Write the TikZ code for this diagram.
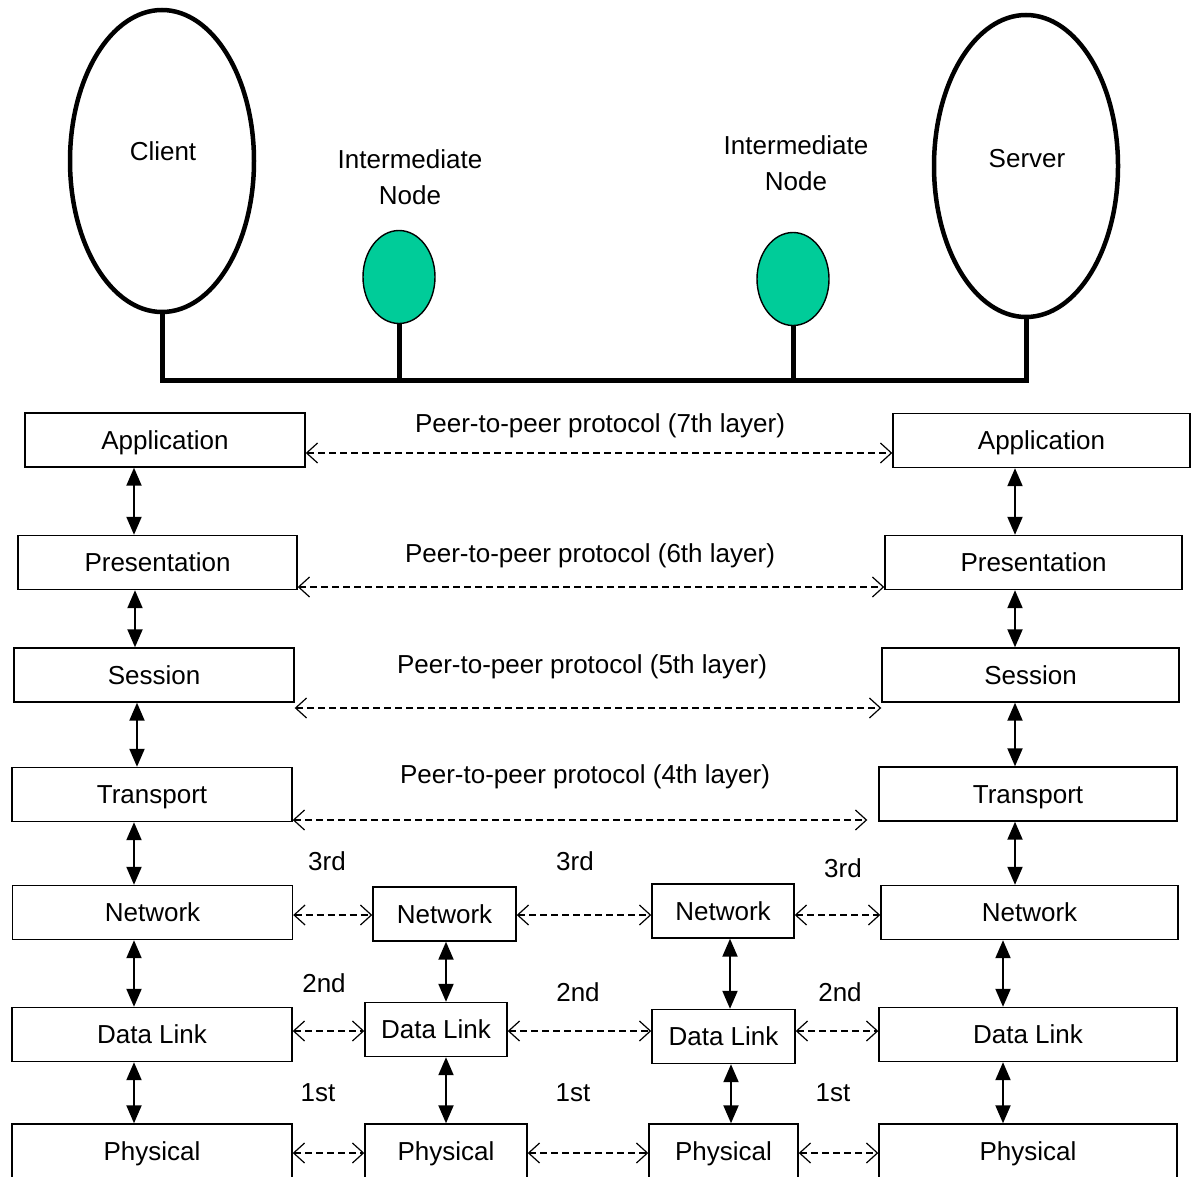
\documentclass[tikz,border=0pt]{standalone}
\usepackage{fontspec}
\setmainfont{Liberation Sans}
\usetikzlibrary{arrows.meta,shapes.geometric}
\definecolor{nodegreen}{RGB}{0,204,153}
\begin{document}
\begin{tikzpicture}[x=1pt,y=-1pt,
  every node/.style={font=\fontsize{26}{36}\selectfont},
  layerbox/.style={draw, line width=1.4pt, minimum height=54pt, inner sep=0pt,
                   text height=19pt, text depth=1pt},
  host/.style={ellipse, draw, line width=4.5pt, inner sep=0pt,
               minimum width=184pt, minimum height=302pt},
  relay/.style={ellipse, draw, fill=nodegreen, line width=1.4pt, inner sep=0pt,
                minimum width=72pt, minimum height=93pt},
  wire/.style={line width=5pt},
  updown/.style={line width=2pt,
                 {Triangle[length=18pt,width=15pt]}-{Triangle[length=18pt,width=15pt]}},
  peer/.style={line width=1.2pt, dash pattern=on 7pt off 4pt,
               {Straight Barb[length=11pt,width=20pt]}-{Straight Barb[length=11pt,width=20pt]}},
]
\useasboundingbox (0,0) rectangle (1196,1177);
\clip (0,0) rectangle (1196,1177);

% hosts and relays on the shared medium
\node[host]  (client) at (162,161) {};
\node[host]  (server) at (1026,166) {};
\node[relay] (relayA) at (399,277) {};
\node[relay] (relayB) at (793,279) {};
\node (clientT) at (163,151) {Client};
\node (serverT) at (1027,159) {Server};
\node[align=center] (relayAT) at (410,177) {Intermediate\\Node};
\node[align=center] (relayBT) at (796,163) {Intermediate\\Node};

\coordinate (busL) at (client.south |- 0,380);
\coordinate (busR) at (server.south |- 0,380);
\draw[wire] (client.south) -- (busL) -- (busR) -- (server.south);
\draw[wire] (relayA.south) -- (relayA.south |- busL);
\draw[wire] (relayB.south) -- (relayB.south |- busL);

% client stack
\node[layerbox, minimum width=280pt] (aL) at (165,440)  {Application};
\node[layerbox, minimum width=279pt] (pL) at (157.5,562.5) {Presentation};
\node[layerbox, minimum width=280pt] (sL) at (154,675)  {Session};
\node[layerbox, minimum width=280pt] (tL) at (152,794.5) {Transport};
\node[layerbox, minimum width=280pt] (nL) at (152.5,912.5)  {Network};
\node[layerbox, minimum width=280pt] (dL) at (152,1034.5) {Data Link};
\node[layerbox, minimum width=280pt] (yL) at (152,1151) {Physical};

% server stack
\node[layerbox, minimum width=297pt] (aR) at (1041.5,440.5) {Application};
\node[layerbox, minimum width=297pt] (pR) at (1033.5,562.5) {Presentation};
\node[layerbox, minimum width=297pt] (sR) at (1030.5,675)  {Session};
\node[layerbox, minimum width=298pt] (tR) at (1028,794)    {Transport};
\node[layerbox, minimum width=297pt] (nR) at (1029.5,912.5) {Network};
\node[layerbox, minimum width=298pt] (dR) at (1028,1034.5) {Data Link};
\node[layerbox, minimum width=298pt] (yR) at (1028,1151)   {Physical};

% relay stacks
\node[layerbox, minimum width=143pt] (nA) at (444.5,914)  {Network};
\node[layerbox, minimum width=142pt] (dA) at (436,1029.5) {Data Link};
\node[layerbox, minimum width=162pt] (yA) at (446,1151)   {Physical};
\node[layerbox, minimum width=142pt] (nB) at (723,911)    {Network};
\node[layerbox, minimum width=143pt] (dB) at (723.5,1036.5) {Data Link};
\node[layerbox, minimum width=149pt] (yB) at (723.5,1151) {Physical};

% vertical interfaces
\draw[updown] (aL.south -| 134,0) -- (pL.north -| 134,0);
\draw[updown] (pL.south -| 135,0) -- (sL.north -| 135,0);
\draw[updown] (sL.south -| 137,0) -- (tL.north -| 137,0);
\draw[updown] (tL.south -| 134,0) -- (nL.north -| 134,0);
\draw[updown] (nL.south -| 134,0) -- (dL.north -| 134,0);
\draw[updown] (dL.south -| 134,0) -- (yL.north -| 134,0);

\draw[updown] (aR.south -| 1015,0) -- (pR.north -| 1015,0);
\draw[updown] (pR.south -| 1015,0) -- (sR.north -| 1015,0);
\draw[updown] (sR.south -| 1015,0) -- (tR.north -| 1015,0);
\draw[updown] (tR.south -| 1015,0) -- (nR.north -| 1015,0);
\draw[updown] (nR.south -| 1003,0) -- (dR.north -| 1003,0);
\draw[updown] (dR.south -| 1003,0) -- (yR.north -| 1003,0);

\draw[updown] (nA.south -| 446,0) -- (dA.north -| 446,0);
\draw[updown] (dA.south -| 446,0) -- (yA.north -| 446,0);
\draw[updown] (nB.south -| 730,0) -- (dB.north -| 730,0);
\draw[updown] (dB.south -| 731,0) -- (yB.north -| 731,0);

% end-to-end peer protocols
\draw[peer] (aL.east |- 0,453) -- (aR.west |- 0,453);
\draw[peer] (pL.east |- 0,587) -- (pR.west |- 0,587);
\draw[peer] (sL.east |- 0,708) -- (sR.west |- 0,708);
\draw[peer, shorten >=11pt] (tL.east |- 0,820) -- (tR.west |- 0,820);
\node (p7) at (600,426) {Peer-to-peer protocol (7th layer)};
\node (p6) at (590,556) {Peer-to-peer protocol (6th layer)};
\node (p5) at (582,667) {Peer-to-peer protocol (5th layer)};
\node (p4) at (585,777) {Peer-to-peer protocol (4th layer)};

% hop-by-hop peer protocols
\draw[peer] (nL.east |- 0,915) -- (nA.west |- 0,915);
\draw[peer] (nA.east |- 0,915) -- (nB.west |- 0,915);
\draw[peer] (nB.east |- 0,915) -- (nR.west |- 0,915);
\draw[peer] (dL.east |- 0,1031) -- (dA.west |- 0,1031);
\draw[peer] (dA.east |- 0,1031) -- (dB.west |- 0,1031);
\draw[peer] (dB.east |- 0,1031) -- (dR.west |- 0,1031);
\draw[peer] (yL.east |- 0,1153) -- (yA.west |- 0,1153);
\draw[peer] (yA.east |- 0,1153) -- (yB.west |- 0,1153);
\draw[peer] (yB.east |- 0,1153) -- (yR.west |- 0,1153);

\node (n3a) at (327,861) {3rd};
\node (n3b) at (575,861) {3rd};
\node (n3c) at (843,868) {3rd};
\node (n2a) at (324,983) {2nd};
\node (n2b) at (578,992) {2nd};
\node (n2c) at (840,992) {2nd};
\node (n1a) at (318,1093) {1st};
\node (n1b) at (573,1093) {1st};
\node (n1c) at (833,1093) {1st};
\end{tikzpicture}
\end{document}
